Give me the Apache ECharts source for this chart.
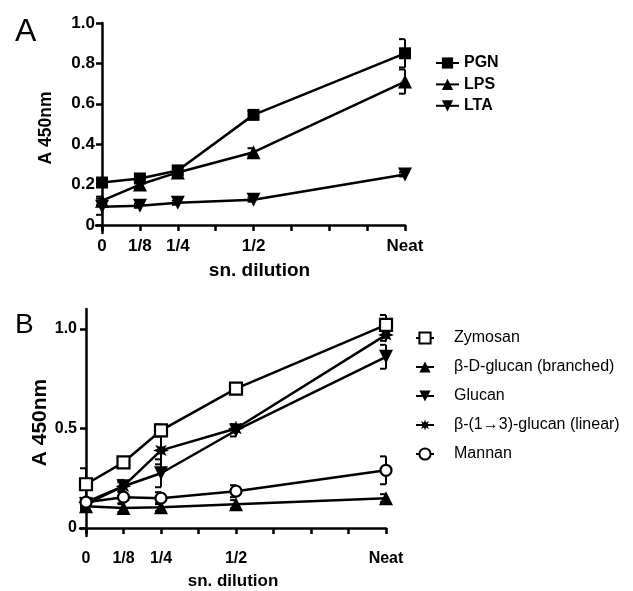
<!DOCTYPE html>
<html><head><meta charset="utf-8">
<script src="https://cdn.jsdelivr.net/npm/echarts@6/dist/echarts.min.js"></script>
<style>html,body{margin:0;padding:0;background:#fff}#c{width:633px;height:591px}</style>
</head><body><div id="c"></div>
<script>
// ---- data ----
const dilutionX = [0, 0.125, 0.25, 0.5, 1];
const dilutionLabels = ['0', '1/8', '1/4', '1/2', 'Neat'];
const minorTicksX = [0, 0.125, 0.25, 0.375, 0.5, 0.625, 0.75, 0.875, 1];
const yTicksA = [0, 0.2, 0.4, 0.6, 0.8, 1.0];
const yTicksB = [0, 0.5, 1.0];

const namesA = ['PGN', 'LPS', 'LTA'];
const pgn    = [0.21, 0.23, 0.27, 0.545, 0.85];
const pgnErr = [0.02, 0.02, 0.02, 0.02, 0.07];
const lps    = [0.12, 0.20, 0.26, 0.36, 0.71];
const lpsErr = [0.02, 0.02, 0.02, 0.02, 0.06];
const lta    = [0.09, 0.095, 0.11, 0.125, 0.25];
const ltaErr = [0.04, 0.01, 0.01, 0.01, 0.01];

const namesB = ['Zymosan', 'β-D-glucan (branched)', 'Glucan', 'β-(1→3)-glucan (linear)', 'Mannan'];
const zymosan     = [0.22, 0.33, 0.49, 0.70, 1.02];
const zymosanErr  = [0.08, 0.02, 0.03, 0.02, 0.05];
const branched    = [0.11, 0.10, 0.105, 0.12, 0.15];
const branchedErr = [0.02, 0.02, 0.02, 0.02, 0.02];
const glucan      = [0.12, 0.21, 0.275, 0.49, 0.86];
const glucanErr   = [0.02, 0.03, 0.07, 0.03, 0.06];
const linear      = [0.13, 0.21, 0.39, 0.50, 0.97];
const linearErr   = [0.02, 0.02, 0.07, 0.02, 0.03];
const mannan      = [0.13, 0.155, 0.15, 0.185, 0.29];
const mannanErr   = [0.02, 0.03, 0.03, 0.03, 0.07];

// ---- styling ----
const FONT = '"Liberation Sans", Arial, sans-serif';
const SYM_UP = 'path://M10 0 L20 17 L0 17 Z';
const SYM_DOWN = 'path://M0 0 L20 0 L10 17 Z';
const SYM_STAR = 'path://M20 10 L14.6 11.9 L17.07 17.07 L11.9 14.6 L10 20 L8.1 14.6 L2.93 17.07 L5.4 11.9 L0 10 L5.4 8.1 L2.93 2.93 L8.1 5.4 L10 0 L11.9 5.4 L17.07 2.93 L14.6 8.1 Z';

function pairs(vals) { return dilutionX.map((x, i) => [x, vals[i]]); }
function triples(vals, errs) { return dilutionX.map((x, i) => [x, vals[i], errs[i]]); }
function xLabel(v) {
  for (let i = 0; i < dilutionX.length; i++) if (Math.abs(v - dilutionX[i]) < 1e-6) return dilutionLabels[i];
  return '';
}
function errRender(params, api) {
  const x = api.value(0), y = api.value(1), e = api.value(2);
  const t = api.coord([x, y + e]), b = api.coord([x, y - e]);
  const cw = 6, st = { stroke: '#000', lineWidth: 2 };
  return { type: 'group', children: [
    { type: 'line', shape: { x1: t[0], y1: t[1], x2: b[0], y2: b[1] }, style: st },
    { type: 'line', shape: { x1: t[0] - cw, y1: t[1], x2: t[0], y2: t[1] }, style: st },
    { type: 'line', shape: { x1: b[0] - cw, y1: b[1], x2: b[0], y2: b[1] }, style: st }
  ]};
}
function lineSeries(name, vals, g, symbol, size, open) {
  return {
    type: 'line', name, xAxisIndex: g, yAxisIndex: g, data: pairs(vals),
    symbol, symbolSize: size, showAllSymbol: true, z: 3,
    lineStyle: { color: '#000', width: 2.5 },
    itemStyle: open ? { color: '#fff', borderColor: '#000', borderWidth: 2.2 } : { color: '#000', borderWidth: 0 },
    emphasis: { disabled: true }, animation: false
  };
}
function errSeries(vals, errs, g) {
  return { type: 'custom', xAxisIndex: g, yAxisIndex: g, data: triples(vals, errs), renderItem: errRender, z: 1, silent: true, animation: false };
}
const axisLineStyle = { color: '#000', width: 2.5 };
function xAxisCfg(g, labelSize, margin, nameSize, nameGap, namePad) {
  return {
    type: 'value', gridIndex: g, min: -0.02, max: 1,
    axisLine: { onZero: true, lineStyle: axisLineStyle },
    axisTick: { customValues: minorTicksX, length: 6, lineStyle: { color: '#000', width: 2.5 } },
    axisLabel: { customValues: dilutionX, formatter: xLabel, color: '#000', fontWeight: 'bold', fontSize: labelSize, fontFamily: FONT, margin },
    splitLine: { show: false },
    name: 'sn. dilution', nameLocation: 'middle', nameGap,
    nameTextStyle: { color: '#000', fontWeight: 'bold', fontSize: nameSize, fontFamily: FONT, padding: namePad }
  };
}
function yAxisCfg(g, max, ticks, fmt, labelSize, margin, nameSize, nameGap) {
  return {
    type: 'value', gridIndex: g, min: -0.04, max,
    axisLine: { show: true, onZero: true, lineStyle: axisLineStyle },
    axisTick: { show: true, customValues: ticks, length: 6, lineStyle: { color: '#000', width: 2.5 } },
    axisLabel: { customValues: ticks, formatter: fmt, color: '#000', fontWeight: 'bold', fontSize: labelSize, fontFamily: FONT, margin },
    splitLine: { show: false },
    name: 'A 450nm', nameLocation: 'middle', nameGap, nameRotate: 90,
    nameTextStyle: { color: '#000', fontWeight: 'bold', fontSize: nameSize, fontFamily: FONT }
  };
}
const yFmt = v => (Math.abs(v) < 1e-9 ? '0' : v.toFixed(1));

const chart = echarts.init(document.getElementById('c'), null, { renderer: 'canvas' });
chart.setOption({
  backgroundColor: '#fff',
  animation: false,
  grid: [
    { left: 96, top: 23, width: 309, height: 210 },
    { left: 80, top: 309, width: 306, height: 240 }
  ],
  xAxis: [
    xAxisCfg(0, 17, 5, 19, 28, [0, 0, 0, 18]),
    xAxisCfg(1, 16, 15, 17, 37, 0)
  ],
  yAxis: [
    yAxisCfg(0, 1.0, yTicksA, yFmt, 17, 1, 17.5, 41),
    yAxisCfg(1, 1.1, yTicksB, yFmt, 16, 3, 21, 20)
  ],
  legend: [
    { data: namesA, orient: 'vertical', left: 430, top: 50, itemWidth: 23, itemHeight: 14, itemGap: 5.4,
      textStyle: { color: '#000', fontWeight: 'bold', fontSize: 16, fontFamily: FONT, lineHeight: 14 }, selectedMode: false },
    { data: namesB, orient: 'vertical', left: 410, top: 325, itemWidth: 18, itemHeight: 14, itemGap: 13,
      textStyle: { color: '#000', fontSize: 16, fontFamily: FONT, lineHeight: 14, padding: [0, 0, 0, 15] }, selectedMode: false }
  ],
  graphic: [
    { type: 'text', left: 15, top: 16, style: { text: 'A', font: '32px ' + FONT, fill: '#000' } },
    { type: 'text', left: 15, top: 311, style: { text: 'B', font: '28px ' + FONT, fill: '#000' } }
  ],
  series: [
    errSeries(pgn, pgnErr, 0), errSeries(lps, lpsErr, 0), errSeries(lta, ltaErr, 0),
    lineSeries('PGN', pgn, 0, 'rect', 12, false),
    lineSeries('LPS', lps, 0, SYM_UP, 14, false),
    lineSeries('LTA', lta, 0, SYM_DOWN, 14, false),
    errSeries(zymosan, zymosanErr, 1), errSeries(branched, branchedErr, 1), errSeries(glucan, glucanErr, 1),
    errSeries(linear, linearErr, 1), errSeries(mannan, mannanErr, 1),
    lineSeries(namesB[1], branched, 1, SYM_UP, 14, false),
    lineSeries(namesB[2], glucan, 1, SYM_DOWN, 14, false),
    lineSeries(namesB[3], linear, 1, SYM_STAR, 16, false),
    lineSeries(namesB[4], mannan, 1, 'circle', 11, true),
    lineSeries(namesB[0], zymosan, 1, 'rect', 12, true)
  ]
});
</script></body></html>
